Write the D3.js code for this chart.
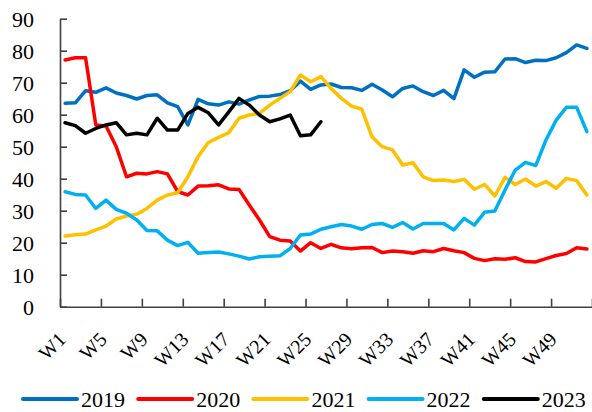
<!DOCTYPE html>
<html lang="en">
  <head>
    <meta charset="utf-8">
    <title>Weekly series 2019-2023</title>
    <style type="text/css">
      body { margin: 0; background: #fff; }
      svg { display: block; }
      svg text { font-family: "Liberation Serif", "DejaVu Serif", serif !important; }
    </style>
  </head>
  <body>
    <script type="text/javascript" src="https://d3js.org/d3.v7.min.js"></script>
    <script type="text/javascript">
    // ===================================
    // DATA
    // ===================================
      var weeks = d3.range(1, 53).map(function(i) { return "W" + i; });
      var weekLabels = ["W1", "W5", "W9", "W13", "W17", "W21", "W25", "W29", "W33", "W37", "W41", "W45", "W49"];
      var yTicks = [0, 10, 20, 30, 40, 50, 60, 70, 80, 90];
      var years = ["2019", "2020", "2021", "2022", "2023"];
      var colors = ["#0070C0", "#FF0000", "#FFC000", "#00B0F0", "#000000"];

      var s2019 = [63.6, 63.7, 67.5, 67.0, 68.4, 66.8, 66.0, 64.9, 66.0, 66.2,
                   63.7, 62.5, 56.8, 64.8, 63.4, 63.0, 64.0, 63.3, 64.6, 65.7,
                   65.8, 66.3, 67.5, 70.5, 67.9, 69.3, 69.6, 68.5, 68.4, 67.6,
                   69.5, 67.7, 65.6, 68.2, 69.0, 67.2, 66.0, 67.6, 65.0, 74.0,
                   71.7, 73.3, 73.4, 77.4, 77.5, 76.3, 77.0, 76.9, 77.8, 79.4,
                   81.8, 80.7];
      var s2020 = [77.1, 77.8, 77.8, 56.8, 56.5, 50.0, 40.6, 41.7, 41.5, 42.2,
                   41.5, 36.0, 34.9, 37.7, 37.8, 38.1, 36.8, 36.6, 31.8, 27.1,
                   21.9, 20.8, 20.5, 17.4, 20.0, 18.2, 19.5, 18.4, 18.1, 18.4,
                   18.5, 16.9, 17.4, 17.2, 16.7, 17.5, 17.2, 18.2, 17.5, 16.9,
                   15.1, 14.4, 15.0, 14.8, 15.3, 14.1, 14.0, 15.0, 16.0, 16.6,
                   18.4, 18.0];
      var s2021 = [22.1, 22.5, 22.7, 24.0, 25.2, 27.4, 28.3, 28.9, 30.7, 33.3,
                   34.9, 35.6, 40.6, 46.9, 51.3, 52.9, 54.4, 58.9, 59.9, 60.4,
                   63.0, 65.1, 67.2, 72.4, 70.3, 71.9, 68.2, 65.1, 62.7, 61.7,
                   53.1, 50.0, 49.0, 44.3, 45.0, 40.6, 39.4, 39.6, 39.1, 39.8,
                   36.7, 38.2, 34.6, 40.4, 38.2, 39.9, 37.7, 39.1, 37.0, 40.1,
                   39.4, 34.9];
      var s2022 = [35.9, 35.1, 34.9, 30.7, 33.3, 30.4, 29.2, 27.1, 23.8, 23.7,
                   20.8, 19.1, 20.1, 16.7, 16.9, 17.1, 16.5, 15.8, 14.9, 15.6,
                   15.8, 15.9, 18.2, 22.4, 22.7, 24.2, 25.0, 25.7, 25.2, 24.2,
                   25.7, 26.0, 24.8, 26.3, 24.3, 26.0, 26.0, 26.0, 24.0, 27.6,
                   25.5, 29.5, 29.9, 36.5, 42.7, 45.1, 44.1, 52.1, 58.3, 62.3,
                   62.3, 54.7];
      var s2023 = [57.5, 56.6, 54.2, 55.7, 56.8, 57.5, 53.7, 54.2, 53.7, 58.9,
                   55.2, 55.2, 60.4, 62.3, 60.6, 56.8, 60.9, 65.1, 63.0, 59.9,
                   57.8, 58.7, 59.9, 53.4, 53.7, 57.8];

      var seriesValues = [s2019, s2020, s2021, s2022, s2023];

    // ===================================
    // LAYOUT
    // ===================================
      var w = 592;
      var h = 412;
      var plotLeft = 60, plotRight = 592, plotTop = 18.7, plotBottom = 306.7;

      var svg = d3.select("body")
        .append("svg")
        .attr("width", w)
        .attr("height", h);

      var x = d3.scaleBand()
        .domain(weeks)
        .range([plotLeft, plotRight])
        .paddingInner(0)
        .paddingOuter(0);

      // boundaries between categories, for the tick marks
      var xEdge = d3.scaleLinear()
        .domain([0, weeks.length])
        .range([plotLeft, plotRight]);

      var y = d3.scaleLinear()
        .domain([0, 90])
        .range([plotBottom, plotTop]);

    // ===================================
    // AXES
    // ===================================
      var yAxis = svg.append("g")
        .attr("transform", "translate(" + plotLeft + ",0)")
        .call(d3.axisLeft(y)
          .tickValues(yTicks)
          .tickSize(-7)
          .tickPadding(26)
          .tickSizeOuter(0));

      yAxis.selectAll("text")
        .attr("font-size", 22)
        .attr("fill", "#000")
        .attr("dy", "0.34em");

      svg.append("g")
        .attr("transform", "translate(0," + plotBottom + ")")
        .call(d3.axisBottom(xEdge)
          .tickValues(d3.range(0, weeks.length + 1, 4))
          .tickSize(-8)
          .tickSizeOuter(0)
          .tickFormat(""));

      var xLabels = svg.append("g")
        .attr("transform", "translate(0," + plotBottom + ")")
        .call(d3.axisBottom(x)
          .tickValues(weekLabels)
          .tickSize(0)
          .tickSizeOuter(0));

      xLabels.select(".domain").remove();
      xLabels.selectAll("text")
        .attr("font-size", 20)
        .attr("fill", "#000")
        .attr("text-anchor", "end")
        .attr("y", 0)
        .attr("dy", 0)
        .attr("transform", "translate(2,34) rotate(-45)");

      svg.selectAll(".domain, .tick line")
        .attr("stroke", "#404040")
        .attr("stroke-width", 1.6);

    // ===================================
    // LINES
    // ===================================
      var line = d3.line()
        .x(function(d, i) { return x(weeks[i]) + x.bandwidth() / 2; })
        .y(function(d) { return y(d); });

      svg.append("g")
        .selectAll("path")
        .data(seriesValues)
        .enter()
        .append("path")
        .attr("d", line)
        .attr("fill", "none")
        .attr("stroke", function(d, i) { return colors[i]; })
        .attr("stroke-width", 3.5)
        .attr("stroke-linejoin", "round")
        .attr("stroke-linecap", "round");

    // ===================================
    // LEGEND
    // ===================================
      var legend = svg.append("g")
        .attr("transform", "translate(0,399)");

      var items = legend.selectAll("g")
        .data(years)
        .enter()
        .append("g")
        .attr("transform", function(d, i) { return "translate(" + (23 + i * 115.2) + ",0)"; });

      items.append("line")
        .attr("x1", 0)
        .attr("x2", 54)
        .attr("y1", 0)
        .attr("y2", 0)
        .attr("stroke", function(d, i) { return colors[i]; })
        .attr("stroke-width", 4)
        .attr("stroke-linecap", "round");

      items.append("text")
        .attr("x", 58)
        .attr("y", 8)
        .attr("font-size", 22)
        .attr("fill", "#000")
        .text(function(d) { return d; });
    </script>
  </body>
</html>
